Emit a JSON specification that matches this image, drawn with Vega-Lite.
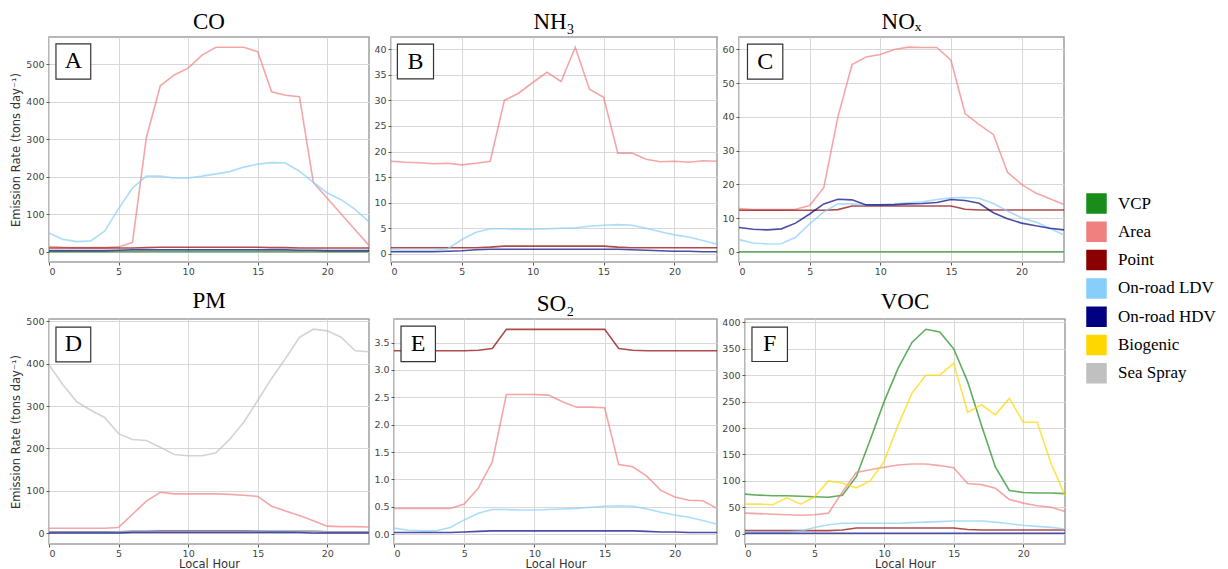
{
"$schema":"https://vega.github.io/schema/vega-lite/v6.json",
"background":"white",
"padding":{"left":10,"top":10,"right":0,"bottom":0},
"config":{
 "view":{"stroke":"#a0a0a0","strokeWidth":1.5},
 "axis":{"grid":true,"gridColor":"#d8d8d8","gridWidth":1,"domain":false,"tickColor":"#555","tickSize":3,"labelColor":"#444","labelFont":"DejaVu Sans","labelFontSize":9.5,"labelPadding":2,"labelOverlap":false,"minExtent":0,"titleFont":"DejaVu Sans","titleFontSize":11.5,"titleFontWeight":"normal","titleColor":"#333","titlePadding":4},
 "axisX":{"labelPadding":1,"titlePadding":1},
 "title":{"font":"Liberation Serif","fontSize":23,"fontWeight":"normal","color":"black","offset":3},
 "legend":{"orient":"none","legendX":1037,"legendY":156,"symbolType":"square","symbolSize":361,"symbolStrokeColor":"black","symbolStrokeWidth":1.5,"symbolOpacity":1,"labelFont":"Liberation Serif","labelFontSize":17,"labelColor":"black","labelOffset":11,"rowPadding":3.3,"labelLimit":300}
},
"datasets":{
"co":[
{"h":0,"VCP":0,"Area":14,"Point":10,"On-road LDV":50,"On-road HDV":3},
{"h":1,"VCP":0,"Area":12,"Point":10,"On-road LDV":33,"On-road HDV":3},
{"h":2,"VCP":0,"Area":11,"Point":10,"On-road LDV":27,"On-road HDV":3},
{"h":3,"VCP":0,"Area":11,"Point":10,"On-road LDV":29,"On-road HDV":3},
{"h":4,"VCP":0,"Area":11,"Point":10,"On-road LDV":55,"On-road HDV":3},
{"h":5,"VCP":0,"Area":13,"Point":10,"On-road LDV":115,"On-road HDV":4},
{"h":6,"VCP":0,"Area":25,"Point":10,"On-road LDV":170,"On-road HDV":5},
{"h":7,"VCP":0,"Area":305,"Point":11,"On-road LDV":202,"On-road HDV":5},
{"h":8,"VCP":0,"Area":443,"Point":12,"On-road LDV":202,"On-road HDV":5},
{"h":9,"VCP":0,"Area":472,"Point":12,"On-road LDV":197,"On-road HDV":5},
{"h":10,"VCP":0,"Area":490,"Point":12,"On-road LDV":197,"On-road HDV":5},
{"h":11,"VCP":0,"Area":525,"Point":12,"On-road LDV":202,"On-road HDV":5},
{"h":12,"VCP":0,"Area":546,"Point":12,"On-road LDV":208,"On-road HDV":5},
{"h":13,"VCP":0,"Area":546,"Point":12,"On-road LDV":214,"On-road HDV":5},
{"h":14,"VCP":0,"Area":546,"Point":12,"On-road LDV":226,"On-road HDV":5},
{"h":15,"VCP":0,"Area":534,"Point":12,"On-road LDV":234,"On-road HDV":5},
{"h":16,"VCP":0,"Area":427,"Point":11,"On-road LDV":238,"On-road HDV":5},
{"h":17,"VCP":0,"Area":418,"Point":11,"On-road LDV":237,"On-road HDV":5},
{"h":18,"VCP":0,"Area":414,"Point":10,"On-road LDV":215,"On-road HDV":4},
{"h":19,"VCP":0,"Area":185,"Point":10,"On-road LDV":185,"On-road HDV":4},
{"h":20,"VCP":0,"Area":143,"Point":10,"On-road LDV":157,"On-road HDV":3},
{"h":21,"VCP":0,"Area":101,"Point":10,"On-road LDV":139,"On-road HDV":3},
{"h":22,"VCP":0,"Area":59,"Point":10,"On-road LDV":113,"On-road HDV":3},
{"h":23,"VCP":0,"Area":17,"Point":10,"On-road LDV":80,"On-road HDV":3}
],
"nh3":[
{"h":0,"Area":18.1,"Point":1.2,"On-road LDV":0.8,"On-road HDV":0.4},
{"h":1,"Area":17.9,"Point":1.2,"On-road LDV":0.7,"On-road HDV":0.4},
{"h":2,"Area":17.8,"Point":1.2,"On-road LDV":0.7,"On-road HDV":0.4},
{"h":3,"Area":17.6,"Point":1.2,"On-road LDV":0.7,"On-road HDV":0.4},
{"h":4,"Area":17.7,"Point":1.2,"On-road LDV":1.0,"On-road HDV":0.5},
{"h":5,"Area":17.4,"Point":1.2,"On-road LDV":2.8,"On-road HDV":0.6},
{"h":6,"Area":17.7,"Point":1.2,"On-road LDV":4.2,"On-road HDV":0.8},
{"h":7,"Area":18.1,"Point":1.3,"On-road LDV":4.9,"On-road HDV":0.9},
{"h":8,"Area":30.0,"Point":1.5,"On-road LDV":4.9,"On-road HDV":0.9},
{"h":9,"Area":31.4,"Point":1.5,"On-road LDV":4.8,"On-road HDV":0.9},
{"h":10,"Area":33.5,"Point":1.5,"On-road LDV":4.8,"On-road HDV":0.9},
{"h":11,"Area":35.5,"Point":1.5,"On-road LDV":4.9,"On-road HDV":0.9},
{"h":12,"Area":33.7,"Point":1.5,"On-road LDV":5.0,"On-road HDV":0.9},
{"h":13,"Area":40.4,"Point":1.5,"On-road LDV":5.1,"On-road HDV":0.9},
{"h":14,"Area":32.2,"Point":1.5,"On-road LDV":5.4,"On-road HDV":0.9},
{"h":15,"Area":30.6,"Point":1.5,"On-road LDV":5.6,"On-road HDV":0.9},
{"h":16,"Area":19.7,"Point":1.3,"On-road LDV":5.7,"On-road HDV":0.9},
{"h":17,"Area":19.7,"Point":1.2,"On-road LDV":5.6,"On-road HDV":0.8},
{"h":18,"Area":18.5,"Point":1.2,"On-road LDV":5.0,"On-road HDV":0.7},
{"h":19,"Area":18.0,"Point":1.2,"On-road LDV":4.3,"On-road HDV":0.6},
{"h":20,"Area":18.1,"Point":1.2,"On-road LDV":3.7,"On-road HDV":0.5},
{"h":21,"Area":17.9,"Point":1.2,"On-road LDV":3.3,"On-road HDV":0.5},
{"h":22,"Area":18.2,"Point":1.2,"On-road LDV":2.6,"On-road HDV":0.4},
{"h":23,"Area":18.1,"Point":1.2,"On-road LDV":1.9,"On-road HDV":0.4}
],
"nox":[
{"h":0,"VCP":0,"Area":12.8,"Point":12.3,"On-road LDV":3.6,"On-road HDV":7.2},
{"h":1,"VCP":0,"Area":12.5,"Point":12.3,"On-road LDV":2.6,"On-road HDV":6.7},
{"h":2,"VCP":0,"Area":12.5,"Point":12.3,"On-road LDV":2.3,"On-road HDV":6.5},
{"h":3,"VCP":0,"Area":12.5,"Point":12.3,"On-road LDV":2.4,"On-road HDV":6.8},
{"h":4,"VCP":0,"Area":12.6,"Point":12.3,"On-road LDV":4.3,"On-road HDV":8.5},
{"h":5,"VCP":0,"Area":13.7,"Point":12.3,"On-road LDV":8.3,"On-road HDV":11.2},
{"h":6,"VCP":0,"Area":19.0,"Point":12.3,"On-road LDV":11.8,"On-road HDV":14.2},
{"h":7,"VCP":0,"Area":40.0,"Point":12.5,"On-road LDV":14.2,"On-road HDV":15.6},
{"h":8,"VCP":0,"Area":55.5,"Point":13.6,"On-road LDV":14.2,"On-road HDV":15.4},
{"h":9,"VCP":0,"Area":57.8,"Point":13.6,"On-road LDV":13.9,"On-road HDV":13.9},
{"h":10,"VCP":0,"Area":58.5,"Point":13.6,"On-road LDV":14.0,"On-road HDV":13.9},
{"h":11,"VCP":0,"Area":60.0,"Point":13.6,"On-road LDV":14.2,"On-road HDV":14.0},
{"h":12,"VCP":0,"Area":60.7,"Point":13.6,"On-road LDV":14.5,"On-road HDV":14.2},
{"h":13,"VCP":0,"Area":60.6,"Point":13.6,"On-road LDV":14.8,"On-road HDV":14.3},
{"h":14,"VCP":0,"Area":60.6,"Point":13.6,"On-road LDV":15.5,"On-road HDV":14.6},
{"h":15,"VCP":0,"Area":56.8,"Point":13.6,"On-road LDV":16.0,"On-road HDV":15.5},
{"h":16,"VCP":0,"Area":41.0,"Point":12.6,"On-road LDV":16.1,"On-road HDV":15.2},
{"h":17,"VCP":0,"Area":37.7,"Point":12.4,"On-road LDV":15.9,"On-road HDV":14.4},
{"h":18,"VCP":0,"Area":34.8,"Point":12.4,"On-road LDV":14.3,"On-road HDV":11.6},
{"h":19,"VCP":0,"Area":23.6,"Point":12.4,"On-road LDV":12.1,"On-road HDV":9.8},
{"h":20,"VCP":0,"Area":20.0,"Point":12.4,"On-road LDV":10.1,"On-road HDV":8.5},
{"h":21,"VCP":0,"Area":17.4,"Point":12.4,"On-road LDV":8.8,"On-road HDV":7.7},
{"h":22,"VCP":0,"Area":15.7,"Point":12.4,"On-road LDV":7.0,"On-road HDV":7.0},
{"h":23,"VCP":0,"Area":14.0,"Point":12.4,"On-road LDV":5.0,"On-road HDV":6.5}
],
"pm":[
{"h":0,"Area":12,"Point":4,"On-road LDV":3,"On-road HDV":1,"Sea Spray":397},
{"h":1,"Area":12,"Point":4,"On-road LDV":3,"On-road HDV":1,"Sea Spray":350},
{"h":2,"Area":12,"Point":4,"On-road LDV":3,"On-road HDV":1,"Sea Spray":310},
{"h":3,"Area":12,"Point":4,"On-road LDV":3,"On-road HDV":1,"Sea Spray":290},
{"h":4,"Area":12,"Point":4,"On-road LDV":3,"On-road HDV":1,"Sea Spray":273},
{"h":5,"Area":14,"Point":4,"On-road LDV":4,"On-road HDV":1,"Sea Spray":235},
{"h":6,"Area":45,"Point":5,"On-road LDV":5,"On-road HDV":2,"Sea Spray":221},
{"h":7,"Area":76,"Point":5,"On-road LDV":5,"On-road HDV":2,"Sea Spray":219},
{"h":8,"Area":97,"Point":6,"On-road LDV":5,"On-road HDV":2,"Sea Spray":203},
{"h":9,"Area":93,"Point":6,"On-road LDV":5,"On-road HDV":2,"Sea Spray":186},
{"h":10,"Area":93,"Point":6,"On-road LDV":5,"On-road HDV":2,"Sea Spray":183},
{"h":11,"Area":93,"Point":6,"On-road LDV":5,"On-road HDV":2,"Sea Spray":183},
{"h":12,"Area":93,"Point":6,"On-road LDV":5,"On-road HDV":2,"Sea Spray":190},
{"h":13,"Area":92,"Point":6,"On-road LDV":5,"On-road HDV":2,"Sea Spray":222},
{"h":14,"Area":90,"Point":6,"On-road LDV":5,"On-road HDV":2,"Sea Spray":262},
{"h":15,"Area":87,"Point":6,"On-road LDV":6,"On-road HDV":2,"Sea Spray":313},
{"h":16,"Area":64,"Point":5,"On-road LDV":6,"On-road HDV":2,"Sea Spray":365},
{"h":17,"Area":53,"Point":5,"On-road LDV":6,"On-road HDV":2,"Sea Spray":412},
{"h":18,"Area":42,"Point":5,"On-road LDV":5,"On-road HDV":2,"Sea Spray":462},
{"h":19,"Area":30,"Point":5,"On-road LDV":5,"On-road HDV":1,"Sea Spray":481},
{"h":20,"Area":17,"Point":4,"On-road LDV":4,"On-road HDV":1,"Sea Spray":477},
{"h":21,"Area":16,"Point":4,"On-road LDV":4,"On-road HDV":1,"Sea Spray":462},
{"h":22,"Area":16,"Point":4,"On-road LDV":4,"On-road HDV":1,"Sea Spray":430},
{"h":23,"Area":15,"Point":4,"On-road LDV":4,"On-road HDV":1,"Sea Spray":428}
],
"so2":[
{"h":0,"Area":0.47,"Point":3.35,"On-road LDV":0.11,"On-road HDV":0.03},
{"h":1,"Area":0.47,"Point":3.35,"On-road LDV":0.07,"On-road HDV":0.03},
{"h":2,"Area":0.47,"Point":3.35,"On-road LDV":0.06,"On-road HDV":0.03},
{"h":3,"Area":0.47,"Point":3.35,"On-road LDV":0.06,"On-road HDV":0.03},
{"h":4,"Area":0.47,"Point":3.35,"On-road LDV":0.12,"On-road HDV":0.03},
{"h":5,"Area":0.55,"Point":3.35,"On-road LDV":0.26,"On-road HDV":0.04},
{"h":6,"Area":0.84,"Point":3.36,"On-road LDV":0.38,"On-road HDV":0.05},
{"h":7,"Area":1.32,"Point":3.39,"On-road LDV":0.45,"On-road HDV":0.06},
{"h":8,"Area":2.55,"Point":3.74,"On-road LDV":0.45,"On-road HDV":0.06},
{"h":9,"Area":2.55,"Point":3.74,"On-road LDV":0.44,"On-road HDV":0.06},
{"h":10,"Area":2.55,"Point":3.74,"On-road LDV":0.44,"On-road HDV":0.06},
{"h":11,"Area":2.54,"Point":3.74,"On-road LDV":0.45,"On-road HDV":0.06},
{"h":12,"Area":2.42,"Point":3.74,"On-road LDV":0.46,"On-road HDV":0.06},
{"h":13,"Area":2.32,"Point":3.74,"On-road LDV":0.47,"On-road HDV":0.06},
{"h":14,"Area":2.32,"Point":3.74,"On-road LDV":0.49,"On-road HDV":0.06},
{"h":15,"Area":2.31,"Point":3.74,"On-road LDV":0.51,"On-road HDV":0.06},
{"h":16,"Area":1.27,"Point":3.39,"On-road LDV":0.52,"On-road HDV":0.06},
{"h":17,"Area":1.23,"Point":3.36,"On-road LDV":0.51,"On-road HDV":0.06},
{"h":18,"Area":1.06,"Point":3.35,"On-road LDV":0.46,"On-road HDV":0.05},
{"h":19,"Area":0.80,"Point":3.35,"On-road LDV":0.40,"On-road HDV":0.04},
{"h":20,"Area":0.68,"Point":3.35,"On-road LDV":0.35,"On-road HDV":0.04},
{"h":21,"Area":0.62,"Point":3.35,"On-road LDV":0.31,"On-road HDV":0.03},
{"h":22,"Area":0.61,"Point":3.35,"On-road LDV":0.25,"On-road HDV":0.03},
{"h":23,"Area":0.47,"Point":3.35,"On-road LDV":0.18,"On-road HDV":0.03}
],
"voc":[
{"h":0,"VCP":75,"Area":39,"Point":6,"On-road LDV":3,"On-road HDV":1,"Biogenic":56},
{"h":1,"VCP":73,"Area":38,"Point":6,"On-road LDV":3,"On-road HDV":1,"Biogenic":56},
{"h":2,"VCP":72,"Area":37,"Point":6,"On-road LDV":3,"On-road HDV":1,"Biogenic":55},
{"h":3,"VCP":72,"Area":36,"Point":6,"On-road LDV":3,"On-road HDV":1,"Biogenic":68},
{"h":4,"VCP":71,"Area":35,"Point":6,"On-road LDV":5,"On-road HDV":1,"Biogenic":56},
{"h":5,"VCP":70,"Area":36,"Point":6,"On-road LDV":12,"On-road HDV":1,"Biogenic":70},
{"h":6,"VCP":69,"Area":39,"Point":6,"On-road LDV":17,"On-road HDV":1,"Biogenic":100},
{"h":7,"VCP":73,"Area":79,"Point":7,"On-road LDV":20,"On-road HDV":1,"Biogenic":96},
{"h":8,"VCP":108,"Area":116,"Point":11,"On-road LDV":20,"On-road HDV":1,"Biogenic":87},
{"h":9,"VCP":178,"Area":121,"Point":11,"On-road LDV":20,"On-road HDV":1,"Biogenic":100},
{"h":10,"VCP":250,"Area":126,"Point":11,"On-road LDV":20,"On-road HDV":1,"Biogenic":137},
{"h":11,"VCP":313,"Area":130,"Point":11,"On-road LDV":20,"On-road HDV":1,"Biogenic":205},
{"h":12,"VCP":362,"Area":132,"Point":11,"On-road LDV":21,"On-road HDV":1,"Biogenic":266},
{"h":13,"VCP":387,"Area":132,"Point":11,"On-road LDV":22,"On-road HDV":1,"Biogenic":300},
{"h":14,"VCP":382,"Area":129,"Point":11,"On-road LDV":23,"On-road HDV":1,"Biogenic":300},
{"h":15,"VCP":350,"Area":125,"Point":11,"On-road LDV":24,"On-road HDV":1,"Biogenic":323},
{"h":16,"VCP":288,"Area":95,"Point":8,"On-road LDV":24,"On-road HDV":1,"Biogenic":230},
{"h":17,"VCP":205,"Area":93,"Point":7,"On-road LDV":24,"On-road HDV":1,"Biogenic":244},
{"h":18,"VCP":126,"Area":86,"Point":7,"On-road LDV":22,"On-road HDV":1,"Biogenic":225},
{"h":19,"VCP":82,"Area":65,"Point":7,"On-road LDV":19,"On-road HDV":1,"Biogenic":256},
{"h":20,"VCP":78,"Area":58,"Point":7,"On-road LDV":16,"On-road HDV":1,"Biogenic":211},
{"h":21,"VCP":77,"Area":53,"Point":7,"On-road LDV":14,"On-road HDV":1,"Biogenic":211},
{"h":22,"VCP":77,"Area":50,"Point":7,"On-road LDV":12,"On-road HDV":1,"Biogenic":133},
{"h":23,"VCP":76,"Area":42,"Point":7,"On-road LDV":9,"On-road HDV":1,"Biogenic":72}
]
},
"resolve":{"scale":{"color":"shared"}},
"spacing":12,
"vconcat":[
{"spacing":0,"hconcat":[
 {"width":320,"height":225,"title":"CO","layer":[
  {"data":{"name":"co"},"transform":[{"fold":["VCP","Area","Point","On-road LDV","On-road HDV"],"as":["source","value"]}],
   "mark":{"type":"line","strokeWidth":1.6,"opacity":0.7},
   "encoding":{
    "x":{"field":"h","type":"quantitative","scale":{"domain":[0,23],"nice":false},"axis":{"values":[0,5,10,15,20],"title":null}},
    "y":{"field":"value","type":"quantitative","scale":{"domain":[-27.3,573.3],"nice":false,"zero":false},"axis":{"values":[0,100,200,300,400,500],"title":"Emission Rate (tons day⁻¹)"}},
    "color":{"field":"source","type":"nominal","title":null,"scale":{"domain":["VCP","Area","Point","On-road LDV","On-road HDV","Biogenic","Sea Spray"],"range":["#1a8c1a","#F08080","#8B0000","#87CEFA","#000080","#FFD700","#C0C0C0"]},
     "legend":{"encode":{"symbols":{"update":{"fill":{"scale":"color","field":"value"},"stroke":{"value":"black"},"strokeWidth":{"value":1.5},"opacity":{"value":1}}}}}}
   }},
  {"data":{"values":[{}]},"mark":{"type":"rect","fill":"white","stroke":"#333","strokeWidth":1.2},"encoding":{
    "x":{"datum":0.5,"type":"quantitative","axis":{"values":[0,5,10,15,20],"title":null}},"x2":{"datum":3.0},
    "y":{"datum":554.7,"type":"quantitative","axis":{"values":[0,100,200,300,400,500],"title":"Emission Rate (tons day⁻¹)"}},"y2":{"datum":461}}},
  {"data":{"values":[{}]},"mark":{"type":"text","font":"Liberation Serif","fontSize":24,"color":"black"},"encoding":{
    "x":{"datum":1.75,"type":"quantitative","axis":{"values":[0,5,10,15,20],"title":null}},
    "y":{"datum":508,"type":"quantitative","axis":{"values":[0,100,200,300,400,500],"title":"Emission Rate (tons day⁻¹)"}},"text":{"value":"A"}}}
 ]},
 {"width":326,"height":225,"title":"NH₃","layer":[
  {"data":{"name":"nh3"},"transform":[{"fold":["Area","Point","On-road LDV","On-road HDV"],"as":["source","value"]}],
   "mark":{"type":"line","strokeWidth":1.6,"opacity":0.7},
   "encoding":{
    "x":{"field":"h","type":"quantitative","scale":{"domain":[0,23],"nice":false},"axis":{"values":[0,5,10,15,20],"title":null}},
    "y":{"field":"value","type":"quantitative","scale":{"domain":[-1.6,42.4],"nice":false,"zero":false},"axis":{"values":[0,5,10,15,20,25,30,35,40],"title":null}},
    "color":{"field":"source","type":"nominal","title":null,"scale":{"domain":["VCP","Area","Point","On-road LDV","On-road HDV","Biogenic","Sea Spray"],"range":["#1a8c1a","#F08080","#8B0000","#87CEFA","#000080","#FFD700","#C0C0C0"]},
     "legend":{"encode":{"symbols":{"update":{"fill":{"scale":"color","field":"value"},"stroke":{"value":"black"},"strokeWidth":{"value":1.5},"opacity":{"value":1}}}}}}
   }},
  {"data":{"values":[{}]},"mark":{"type":"rect","fill":"white","stroke":"#333","strokeWidth":1.2},"encoding":{
    "x":{"datum":0.45,"type":"quantitative","axis":{"values":[0,5,10,15,20],"title":null}},"x2":{"datum":3.0},
    "y":{"datum":41.0,"type":"quantitative","axis":{"values":[0,5,10,15,20,25,30,35,40],"title":null}},"y2":{"datum":34.2}}},
  {"data":{"values":[{}]},"mark":{"type":"text","font":"Liberation Serif","fontSize":24,"color":"black"},"encoding":{
    "x":{"datum":1.72,"type":"quantitative","axis":{"values":[0,5,10,15,20],"title":null}},
    "y":{"datum":37.6,"type":"quantitative","axis":{"values":[0,5,10,15,20,25,30,35,40],"title":null}},"text":{"value":"B"}}}
 ]},
 {"width":325,"height":225,"title":"NOₓ","layer":[
  {"data":{"name":"nox"},"transform":[{"fold":["VCP","Area","Point","On-road LDV","On-road HDV"],"as":["source","value"]}],
   "mark":{"type":"line","strokeWidth":1.6,"opacity":0.7},
   "encoding":{
    "x":{"field":"h","type":"quantitative","scale":{"domain":[0,23],"nice":false},"axis":{"values":[0,5,10,15,20],"title":null}},
    "y":{"field":"value","type":"quantitative","scale":{"domain":[-3.03,63.7],"nice":false,"zero":false},"axis":{"values":[0,10,20,30,40,50,60],"title":null}},
    "color":{"field":"source","type":"nominal","title":null,"scale":{"domain":["VCP","Area","Point","On-road LDV","On-road HDV","Biogenic","Sea Spray"],"range":["#1a8c1a","#F08080","#8B0000","#87CEFA","#000080","#FFD700","#C0C0C0"]},
     "legend":{"encode":{"symbols":{"update":{"fill":{"scale":"color","field":"value"},"stroke":{"value":"black"},"strokeWidth":{"value":1.5},"opacity":{"value":1}}}}}}
   }},
  {"data":{"values":[{}]},"mark":{"type":"rect","fill":"white","stroke":"#333","strokeWidth":1.2},"encoding":{
    "x":{"datum":0.6,"type":"quantitative","axis":{"values":[0,5,10,15,20],"title":null}},"x2":{"datum":3.1},
    "y":{"datum":61.6,"type":"quantitative","axis":{"values":[0,10,20,30,40,50,60],"title":null}},"y2":{"datum":51.2}}},
  {"data":{"values":[{}]},"mark":{"type":"text","font":"Liberation Serif","fontSize":24,"color":"black"},"encoding":{
    "x":{"datum":1.85,"type":"quantitative","axis":{"values":[0,5,10,15,20],"title":null}},
    "y":{"datum":56.4,"type":"quantitative","axis":{"values":[0,10,20,30,40,50,60],"title":null}},"text":{"value":"C"}}}
 ]}
]},
{"spacing":0,"hconcat":[
 {"width":320,"height":225,"title":"PM","layer":[
  {"data":{"name":"pm"},"transform":[{"fold":["Area","Point","On-road LDV","On-road HDV","Sea Spray"],"as":["source","value"]}],
   "mark":{"type":"line","strokeWidth":1.6,"opacity":0.7},
   "encoding":{
    "x":{"field":"h","type":"quantitative","scale":{"domain":[0,23],"nice":false},"axis":{"values":[0,5,10,15,20],"title":"Local Hour"}},
    "y":{"field":"value","type":"quantitative","scale":{"domain":[-25,505],"nice":false,"zero":false},"axis":{"values":[0,100,200,300,400,500],"title":"Emission Rate (tons day⁻¹)"}},
    "color":{"field":"source","type":"nominal","title":null,"scale":{"domain":["VCP","Area","Point","On-road LDV","On-road HDV","Biogenic","Sea Spray"],"range":["#1a8c1a","#F08080","#8B0000","#87CEFA","#000080","#FFD700","#C0C0C0"]},
     "legend":{"encode":{"symbols":{"update":{"fill":{"scale":"color","field":"value"},"stroke":{"value":"black"},"strokeWidth":{"value":1.5},"opacity":{"value":1}}}}}}
   }},
  {"data":{"values":[{}]},"mark":{"type":"rect","fill":"white","stroke":"#333","strokeWidth":1.2},"encoding":{
    "x":{"datum":0.5,"type":"quantitative","axis":{"values":[0,5,10,15,20],"title":"Local Hour"}},"x2":{"datum":3.0},
    "y":{"datum":486,"type":"quantitative","axis":{"values":[0,100,200,300,400,500],"title":"Emission Rate (tons day⁻¹)"}},"y2":{"datum":404}}},
  {"data":{"values":[{}]},"mark":{"type":"text","font":"Liberation Serif","fontSize":24,"color":"black"},"encoding":{
    "x":{"datum":1.75,"type":"quantitative","axis":{"values":[0,5,10,15,20],"title":"Local Hour"}},
    "y":{"datum":445,"type":"quantitative","axis":{"values":[0,100,200,300,400,500],"title":"Emission Rate (tons day⁻¹)"}},"text":{"value":"D"}}}
 ]},
 {"width":323,"height":225,"title":"SO₂","layer":[
  {"data":{"name":"so2"},"transform":[{"fold":["Area","Point","On-road LDV","On-road HDV"],"as":["source","value"]}],
   "mark":{"type":"line","strokeWidth":1.6,"opacity":0.7},
   "encoding":{
    "x":{"field":"h","type":"quantitative","scale":{"domain":[0,23],"nice":false},"axis":{"values":[0,5,10,15,20],"title":"Local Hour"}},
    "y":{"field":"value","type":"quantitative","scale":{"domain":[-0.18,3.93],"nice":false,"zero":false},"axis":{"values":[0,0.5,1,1.5,2,2.5,3,3.5],"format":".1f","title":null}},
    "color":{"field":"source","type":"nominal","title":null,"scale":{"domain":["VCP","Area","Point","On-road LDV","On-road HDV","Biogenic","Sea Spray"],"range":["#1a8c1a","#F08080","#8B0000","#87CEFA","#000080","#FFD700","#C0C0C0"]},
     "legend":{"encode":{"symbols":{"update":{"fill":{"scale":"color","field":"value"},"stroke":{"value":"black"},"strokeWidth":{"value":1.5},"opacity":{"value":1}}}}}}
   }},
  {"data":{"values":[{}]},"mark":{"type":"rect","fill":"white","stroke":"#333","strokeWidth":1.2},"encoding":{
    "x":{"datum":0.5,"type":"quantitative","axis":{"values":[0,5,10,15,20],"title":"Local Hour"}},"x2":{"datum":2.95},
    "y":{"datum":3.8,"type":"quantitative","axis":{"values":[0,0.5,1,1.5,2,2.5,3,3.5],"format":".1f","title":null}},"y2":{"datum":3.15}}},
  {"data":{"values":[{}]},"mark":{"type":"text","font":"Liberation Serif","fontSize":24,"color":"black"},"encoding":{
    "x":{"datum":1.72,"type":"quantitative","axis":{"values":[0,5,10,15,20],"title":"Local Hour"}},
    "y":{"datum":3.47,"type":"quantitative","axis":{"values":[0,0.5,1,1.5,2,2.5,3,3.5],"format":".1f","title":null}},"text":{"value":"E"}}}
 ]},
 {"width":320,"height":225,"title":"VOC","layer":[
  {"data":{"name":"voc"},"transform":[{"fold":["VCP","Area","Point","On-road LDV","On-road HDV","Biogenic"],"as":["source","value"]}],
   "mark":{"type":"line","strokeWidth":1.6,"opacity":0.7},
   "encoding":{
    "x":{"field":"h","type":"quantitative","scale":{"domain":[0,23],"nice":false},"axis":{"values":[0,5,10,15,20],"title":"Local Hour"}},
    "y":{"field":"value","type":"quantitative","scale":{"domain":[-19.4,406.4],"nice":false,"zero":false},"axis":{"values":[0,50,100,150,200,250,300,350,400],"title":null}},
    "color":{"field":"source","type":"nominal","title":null,"scale":{"domain":["VCP","Area","Point","On-road LDV","On-road HDV","Biogenic","Sea Spray"],"range":["#1a8c1a","#F08080","#8B0000","#87CEFA","#000080","#FFD700","#C0C0C0"]},
     "legend":{"encode":{"symbols":{"update":{"fill":{"scale":"color","field":"value"},"stroke":{"value":"black"},"strokeWidth":{"value":1.5},"opacity":{"value":1}}}}}}
   }},
  {"data":{"values":[{}]},"mark":{"type":"rect","fill":"white","stroke":"#333","strokeWidth":1.2},"encoding":{
    "x":{"datum":0.5,"type":"quantitative","axis":{"values":[0,5,10,15,20],"title":"Local Hour"}},"x2":{"datum":3.05},
    "y":{"datum":391,"type":"quantitative","axis":{"values":[0,50,100,150,200,250,300,350,400],"title":null}},"y2":{"datum":326}}},
  {"data":{"values":[{}]},"mark":{"type":"text","font":"Liberation Serif","fontSize":24,"color":"black"},"encoding":{
    "x":{"datum":1.78,"type":"quantitative","axis":{"values":[0,5,10,15,20],"title":"Local Hour"}},
    "y":{"datum":358.5,"type":"quantitative","axis":{"values":[0,50,100,150,200,250,300,350,400],"title":null}},"text":{"value":"F"}}}
 ]}
]}
]
}
